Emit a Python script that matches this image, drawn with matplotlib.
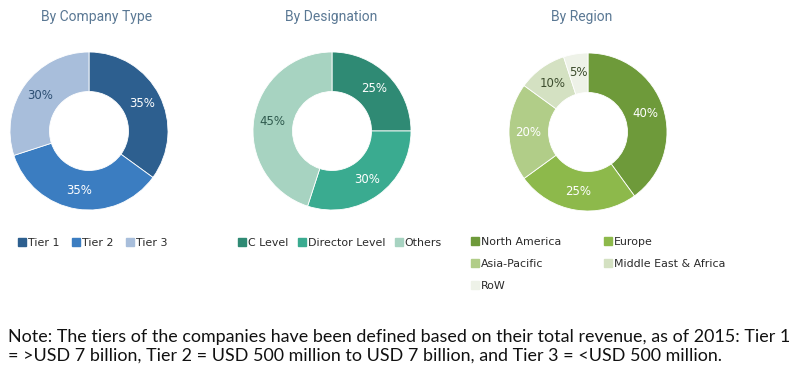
import matplotlib
matplotlib.use("Agg")
import matplotlib.pyplot as plt
from matplotlib.lines import Line2D
import numpy as np

# Data
company_labels = ["Tier 1", "Tier 2", "Tier 3"]
company_values = [35, 35, 30]
designation_labels = ["C Level", "Director Level", "Others"]
designation_values = [25, 30, 45]
region_labels = ["North America", "Europe", "Asia-Pacific", "Middle East & Africa", "RoW"]
region_values = [40, 25, 20, 10, 5]

titles = ["By Company Type", "By Designation", "By Region"]
note = ("Note: The tiers of the companies have been defined based on their total revenue, as of 2015: Tier 1\n"
        "= >USD 7 billion, Tier 2 = USD 500 million to USD 7 billion, and Tier 3 = <USD 500 million.")

company_colors = ["#2d5f8f", "#3b7dc1", "#a8bedb"]
company_txt = ["#ffffff", "#ffffff", "#2d4f73"]
designation_colors = ["#2f8a74", "#3aab90", "#a7d3c1"]
designation_txt = ["#ffffff", "#ffffff", "#2f5a4e"]
region_colors = ["#6e9a3a", "#8db94b", "#b1cd88", "#d4e1c2", "#eef2e8"]
region_txt = ["#ffffff", "#ffffff", "#ffffff", "#3d4d2e", "#3d4d2e"]

W, H = 800, 371
fig = plt.figure(figsize=(W / 100, H / 100), dpi=100)
fig.patch.set_facecolor("white")

R = 79

def pie_axes(cx, cy):
    return fig.add_axes([(cx - R) / W, (H - cy - R) / H, 2 * R / W, 2 * R / H])

def donut(ax, vals, cols, tcols):
    ax.pie(vals, colors=cols, startangle=90, counterclock=False,
           radius=1, wedgeprops=dict(width=0.5, edgecolor="white", linewidth=0.6))
    total = sum(vals)
    ang = 90.0
    for v, tc in zip(vals, tcols):
        mid = ang - v / total * 360 / 2
        ang -= v / total * 360
        r = 0.76
        x = r * np.cos(np.deg2rad(mid))
        y = r * np.sin(np.deg2rad(mid))
        ax.text(x, y, f"{v}%", ha="center", va="center", color=tc,
                fontsize=8.5, family="DejaVu Sans")
    ax.set_xlim(-1, 1)
    ax.set_ylim(-1, 1)
    ax.set_aspect("equal")
    ax.axis("off")

ax1 = pie_axes(89, 131)
donut(ax1, company_values, company_colors, company_txt)
ax2 = pie_axes(332, 131)
donut(ax2, designation_values, designation_colors, designation_txt)
ax3 = pie_axes(588, 132)
donut(ax3, region_values, region_colors, region_txt)

title_color = "#5a7894"
for t, x in zip(titles, [97, 331, 582]):
    fig.text(x / W, 1 - 17 / H, t, ha="center", va="center", color=title_color,
             fontsize=10, family="Roboto")

def handles(labels, cols):
    return [Line2D([], [], marker="s", linestyle="none", markersize=5.5,
                   markerfacecolor=c, markeredgecolor=c, label=l)
            for l, c in zip(labels, cols)]

leg_kw = dict(frameon=False, handlelength=0.6, handletextpad=0.25,
              borderaxespad=0, borderpad=0,
              prop=dict(family="DejaVu Sans", size=7.9))

fig.legend(handles=handles(company_labels, company_colors), ncol=3,
           loc="center left", bbox_to_anchor=(19 / W, 1 - 243 / H),
           columnspacing=1.2, labelcolor="#2a2a2a", **leg_kw)
fig.legend(handles=handles(designation_labels, designation_colors), ncol=3,
           loc="center left", bbox_to_anchor=(239 / W, 1 - 243 / H),
           columnspacing=0.9, labelcolor="#2a2a2a", **leg_kw)

# row-wise order for 2 columns
rh = handles(region_labels, region_colors)
order = [0, 2, 4, 1, 3]
fig.legend(handles=[rh[i] for i in order], ncol=2,
           loc="upper left", bbox_to_anchor=(472 / W, 1 - 237 / H),
           columnspacing=3.9, labelspacing=1.1, labelcolor="#2a2a2a", **leg_kw)

fig.text(8 / W, 1 - 346 / H, note, ha="left", va="center", fontsize=12.9,
         family="Lato", color="#111111", linespacing=1.2)

fig.savefig("out.png", dpi=100, facecolor="white")
